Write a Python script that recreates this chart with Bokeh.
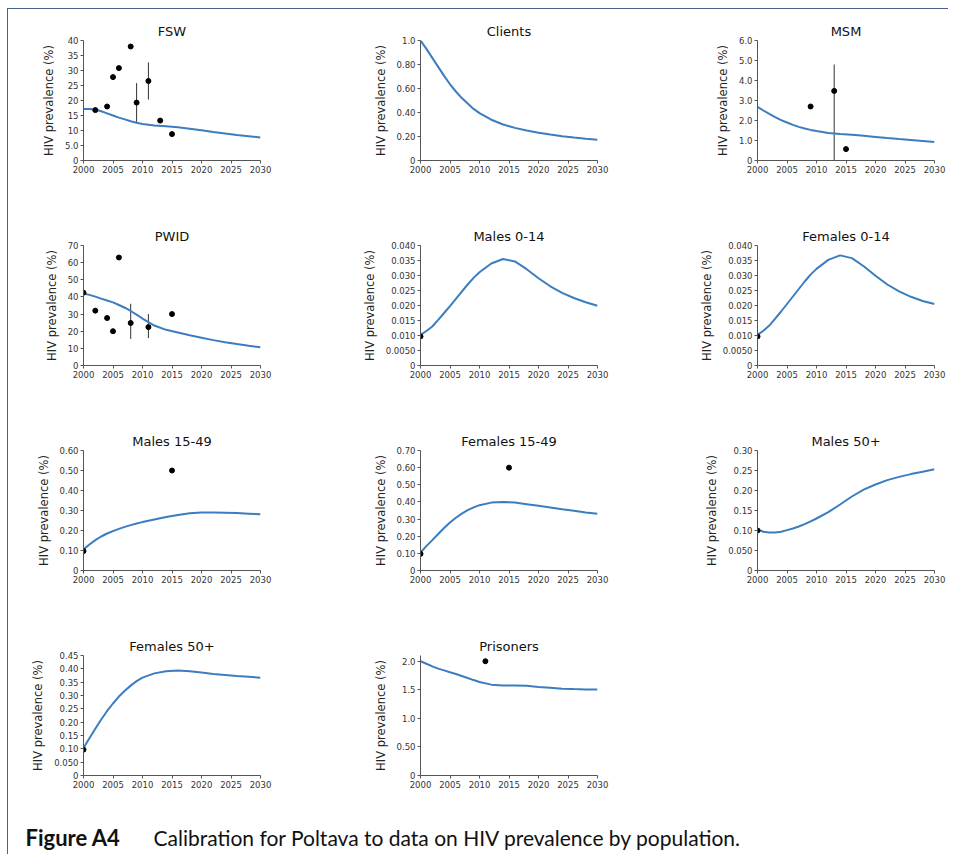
from bokeh.plotting import figure
from bokeh.layouts import column, row
from bokeh.models import Range1d, FixedTicker, CustomJSTickFormatter, Label
from bokeh.embed import file_html
from bokeh.resources import INLINE

# ---------------- data ----------------
YEARS = [2000, 2001, 2002, 2003, 2004, 2005, 2006, 2007, 2008, 2009, 2010,
         2012, 2014, 2016, 2018, 2020, 2022, 2024, 2026, 2028, 2030]
X_TICKS = [2000, 2005, 2010, 2015, 2020, 2025, 2030]

FSW_LINE = [17.2, 17.2, 17.0, 16.4, 15.7, 15.0, 14.3, 13.7, 13.1, 12.6, 12.2,
            11.7, 11.4, 11.1, 10.6, 10.1, 9.5, 9.0, 8.5, 8.1, 7.7]
FSW_PT_X = [2002, 2004, 2005, 2006, 2008, 2009, 2011, 2013, 2015]
FSW_PT_Y = [16.8, 18.0, 27.8, 30.8, 38.0, 19.3, 26.5, 13.3, 8.8]
FSW_ERR_X = [2009, 2011]
FSW_ERR_LO = [12.7, 20.3]
FSW_ERR_HI = [25.8, 32.7]
FSW_TICKS = [0, 5, 10, 15, 20, 25, 30, 35, 40]
FSW_LABELS = ["0", "5.0", "10", "15", "20", "25", "30", "35", "40"]

CLI_LINE = [1.0, 0.93, 0.855, 0.78, 0.705, 0.635, 0.575, 0.52, 0.475, 0.43, 0.395,
            0.34, 0.30, 0.272, 0.25, 0.232, 0.216, 0.203, 0.192, 0.182, 0.173]
CLI_TICKS = [0, 0.2, 0.4, 0.6, 0.8, 1.0]
CLI_LABELS = ["0", "0.20", "0.40", "0.60", "0.80", "1.0"]

MSM_LINE = [2.68, 2.5, 2.33, 2.17, 2.02, 1.9, 1.78, 1.68, 1.6, 1.53, 1.47,
            1.38, 1.33, 1.29, 1.24, 1.18, 1.12, 1.07, 1.03, 0.98, 0.93]
MSM_PT_X = [2009, 2013, 2015]
MSM_PT_Y = [2.7, 3.48, 0.57]
MSM_ERR_X = [2013]
MSM_ERR_LO = [0.0]
MSM_ERR_HI = [4.8]
MSM_TICKS = [0, 1, 2, 3, 4, 5, 6]
MSM_LABELS = ["0", "1.0", "2.0", "3.0", "4.0", "5.0", "6.0"]

PWID_LINE = [42.0, 41.2, 40.2, 39.0, 37.9, 36.8, 35.3, 33.7, 31.8, 29.7, 27.4,
             23.3, 20.8, 19.2, 17.6, 16.2, 14.8, 13.6, 12.5, 11.5, 10.6]
PWID_PT_X = [2000, 2002, 2004, 2005, 2006, 2008, 2011, 2015]
PWID_PT_Y = [42.5, 32.0, 27.7, 20.0, 63.0, 24.8, 22.4, 30.0]
PWID_ERR_X = [2008, 2011]
PWID_ERR_LO = [15.5, 16.0]
PWID_ERR_HI = [36.0, 30.0]
PWID_TICKS = [0, 10, 20, 30, 40, 50, 60, 70]
PWID_LABELS = ["0", "10", "20", "30", "40", "50", "60", "70"]

M014_LINE = [0.0102, 0.0115, 0.013, 0.0152, 0.0175, 0.0198, 0.0222, 0.0246, 0.027, 0.0292, 0.0311,
             0.034, 0.0355, 0.0347, 0.0321, 0.0291, 0.0264, 0.0242, 0.0225, 0.0211, 0.0199]
M014_PT_X = [2000]
M014_PT_Y = [0.0097]
F014_LINE = [0.0102, 0.0116, 0.0133, 0.0156, 0.018, 0.0205, 0.023, 0.0255, 0.028, 0.0303, 0.0322,
             0.0352, 0.0367, 0.0358, 0.0331, 0.0299, 0.027, 0.0247, 0.0229, 0.0215, 0.0205]
F014_PT_X = [2000]
F014_PT_Y = [0.0097]
C014_TICKS = [0, 0.005, 0.01, 0.015, 0.02, 0.025, 0.03, 0.035, 0.04]
C014_LABELS = ["0", "0.0050", "0.010", "0.015", "0.020", "0.025", "0.030", "0.035", "0.040"]

M1549_LINE = [0.105, 0.13, 0.152, 0.17, 0.185, 0.197, 0.208, 0.218, 0.227, 0.235, 0.242,
              0.255, 0.267, 0.278, 0.286, 0.29, 0.29, 0.289, 0.287, 0.284, 0.281]
M1549_PT_X = [2000, 2015]
M1549_PT_Y = [0.097, 0.50]
M1549_TICKS = [0, 0.1, 0.2, 0.3, 0.4, 0.5, 0.6]
M1549_LABELS = ["0", "0.10", "0.20", "0.30", "0.40", "0.50", "0.60"]

F1549_LINE = [0.105, 0.142, 0.177, 0.213, 0.248, 0.28, 0.308, 0.332, 0.352, 0.368, 0.381,
              0.396, 0.40, 0.396, 0.387, 0.378, 0.368, 0.357, 0.348, 0.339, 0.331]
F1549_PT_X = [2000, 2015]
F1549_PT_Y = [0.097, 0.60]
F1549_TICKS = [0, 0.1, 0.2, 0.3, 0.4, 0.5, 0.6, 0.7]
F1549_LABELS = ["0", "0.10", "0.20", "0.30", "0.40", "0.50", "0.60", "0.70"]

M50_LINE = [0.1025, 0.097, 0.095, 0.095, 0.097, 0.101, 0.105, 0.11, 0.116, 0.123, 0.13,
            0.146, 0.165, 0.185, 0.202, 0.215, 0.226, 0.234, 0.241, 0.247, 0.253]
M50_PT_X = [2000]
M50_PT_Y = [0.10]
M50_TICKS = [0, 0.05, 0.1, 0.15, 0.2, 0.25, 0.3]
M50_LABELS = ["0", "0.050", "0.10", "0.15", "0.20", "0.25", "0.30"]

F50_LINE = [0.103, 0.14, 0.175, 0.21, 0.242, 0.27, 0.296, 0.318, 0.337, 0.354, 0.367,
            0.383, 0.391, 0.394, 0.391, 0.386, 0.381, 0.377, 0.373, 0.37, 0.367]
F50_PT_X = [2000]
F50_PT_Y = [0.097]
F50_TICKS = [0, 0.05, 0.1, 0.15, 0.2, 0.25, 0.3, 0.35, 0.4, 0.45]
F50_LABELS = ["0", "0.050", "0.10", "0.15", "0.20", "0.25", "0.30", "0.35", "0.40", "0.45"]

PRI_LINE = [2.0, 1.955, 1.91, 1.87, 1.84, 1.807, 1.775, 1.74, 1.707, 1.67, 1.635,
            1.59, 1.573, 1.573, 1.57, 1.55, 1.535, 1.52, 1.512, 1.506, 1.503]
PRI_PT_X = [2011]
PRI_PT_Y = [2.0]
PRI_TICKS = [0, 0.5, 1.0, 1.5, 2.0]
PRI_LABELS = ["0", "0.50", "1.0", "1.5", "2.0"]

TITLES = ["FSW", "Clients", "MSM", "PWID", "Males 0-14", "Females 0-14",
          "Males 15-49", "Females 15-49", "Males 50+", "Females 50+", "Prisoners"]
Y_LABEL = "HIV prevalence (%)"
CAPTION_BOLD = "Figure A4"
CAPTION_TEXT = "Calibration for Poltava to data on HIV prevalence by population."

# ---------------- style ----------------
LINE_COLOR = "#3b7dbf"
AXIS_COLOR = "#555555"
FONT = "DejaVu Sans"
FRAME_H = 120
TOP = 31


def make_panel(title, line_vals, y_ticks, y_labels, y_max, width, right, height,
               pt_x=None, pt_y=None, err_x=None, err_lo=None, err_hi=None):
    p = figure(width=width, height=height, output_backend="svg", toolbar_location=None,
               x_range=Range1d(2000, 2030), y_range=Range1d(0, y_max),
               min_border_left=75, min_border_right=right,
               min_border_top=TOP, min_border_bottom=height - TOP - FRAME_H,
               title=title)
    p.title.align = "center"
    p.title.text_font = FONT
    p.title.text_font_size = "13px"
    p.title.text_font_style = "normal"
    p.title.text_color = "#111111"
    p.title.standoff = 3
    p.outline_line_color = None
    p.xgrid.visible = False
    p.ygrid.visible = False
    p.background_fill_color = None
    p.border_fill_color = None

    p.xaxis.ticker = FixedTicker(ticks=X_TICKS)
    p.yaxis.ticker = FixedTicker(ticks=y_ticks)
    p.yaxis.formatter = CustomJSTickFormatter(
        args=dict(vals=y_ticks, labs=y_labels),
        code="const i = vals.findIndex(v => Math.abs(v - tick) < 1e-9); return i >= 0 ? labs[i] : '';")
    p.yaxis.axis_label = Y_LABEL
    p.yaxis.axis_label_text_font = FONT
    p.yaxis.axis_label_text_font_size = "11.5px"
    p.yaxis.axis_label_text_font_style = "normal"
    p.yaxis.axis_label_text_color = "#222222"
    p.yaxis.axis_label_standoff = 6
    for ax in (p.xaxis, p.yaxis):
        ax.axis_line_color = AXIS_COLOR
        ax.major_tick_line_color = AXIS_COLOR
        ax.major_tick_out = 3
        ax.major_tick_in = 0
        ax.minor_tick_line_color = None
        ax.major_label_text_font = FONT
        ax.major_label_text_font_size = "8.5px"
        ax.major_label_text_color = "#333333"
        ax.major_label_standoff = 2

    if err_x:
        p.segment(x0=err_x, y0=err_lo, x1=err_x, y1=err_hi, line_color="#333333", line_width=1)
    p.line(YEARS, line_vals, line_color=LINE_COLOR, line_width=2)
    if pt_x:
        p.scatter(pt_x, pt_y, size=5, color="black")
    return p


H = 205
W1, R1 = 337, 85
W3, R3 = 266, 14

p1 = make_panel(TITLES[0], FSW_LINE, FSW_TICKS, FSW_LABELS, 40, W1, R1, H,
                FSW_PT_X, FSW_PT_Y, FSW_ERR_X, FSW_ERR_LO, FSW_ERR_HI)
p2 = make_panel(TITLES[1], CLI_LINE, CLI_TICKS, CLI_LABELS, 1.0, W1, R1, H)
p3 = make_panel(TITLES[2], MSM_LINE, MSM_TICKS, MSM_LABELS, 6.0, W3, R3, H,
                MSM_PT_X, MSM_PT_Y, MSM_ERR_X, MSM_ERR_LO, MSM_ERR_HI)
p4 = make_panel(TITLES[3], PWID_LINE, PWID_TICKS, PWID_LABELS, 70, W1, R1, H,
                PWID_PT_X, PWID_PT_Y, PWID_ERR_X, PWID_ERR_LO, PWID_ERR_HI)
p5 = make_panel(TITLES[4], M014_LINE, C014_TICKS, C014_LABELS, 0.04, W1, R1, H,
                M014_PT_X, M014_PT_Y)
p6 = make_panel(TITLES[5], F014_LINE, C014_TICKS, C014_LABELS, 0.04, W3, R3, H,
                F014_PT_X, F014_PT_Y)
p7 = make_panel(TITLES[6], M1549_LINE, M1549_TICKS, M1549_LABELS, 0.6, W1, R1, H,
                M1549_PT_X, M1549_PT_Y)
p8 = make_panel(TITLES[7], F1549_LINE, F1549_TICKS, F1549_LABELS, 0.7, W1, R1, H,
                F1549_PT_X, F1549_PT_Y)
p9 = make_panel(TITLES[8], M50_LINE, M50_TICKS, M50_LABELS, 0.3, W3, R3, H,
                M50_PT_X, M50_PT_Y)
p10 = make_panel(TITLES[9], F50_LINE, F50_TICKS, F50_LABELS, 0.45, W1, R1, 195,
                 F50_PT_X, F50_PT_Y)
p11 = make_panel(TITLES[10], PRI_LINE, PRI_TICKS, PRI_LABELS, 2.1, W1, R1, 195,
                 PRI_PT_X, PRI_PT_Y)

cap = figure(width=940, height=35, output_backend="svg", toolbar_location=None,
             x_range=Range1d(0, 940), y_range=Range1d(0, 35),
             x_axis_location=None, y_axis_location=None, min_border=0)
cap.outline_line_color = None
cap.xgrid.visible = False
cap.ygrid.visible = False
cap.border_fill_color = None
cap.background_fill_color = None
cap.add_layout(Label(x=17, y=17, x_units="screen", y_units="screen", text=CAPTION_BOLD,
                     text_font="Lato", text_font_size="22px", text_font_style="bold",
                     text_baseline="middle", text_color="#111111"))
cap.add_layout(Label(x=145, y=17, x_units="screen", y_units="screen", text=CAPTION_TEXT,
                     text_font="Lato", text_font_size="21px", text_font_style="normal",
                     text_baseline="middle", text_color="#111111"))

layout = column(row(p1, p2, p3), row(p4, p5, p6), row(p7, p8, p9), row(p10, p11), cap,
                styles={"border-top": "1px solid #46618a", "border-left": "1px solid #46618a",
                        "margin-left": "7px", "margin-top": "8px"})

open("out.html", "w").write(file_html(layout, INLINE, title="Figure A4"))
